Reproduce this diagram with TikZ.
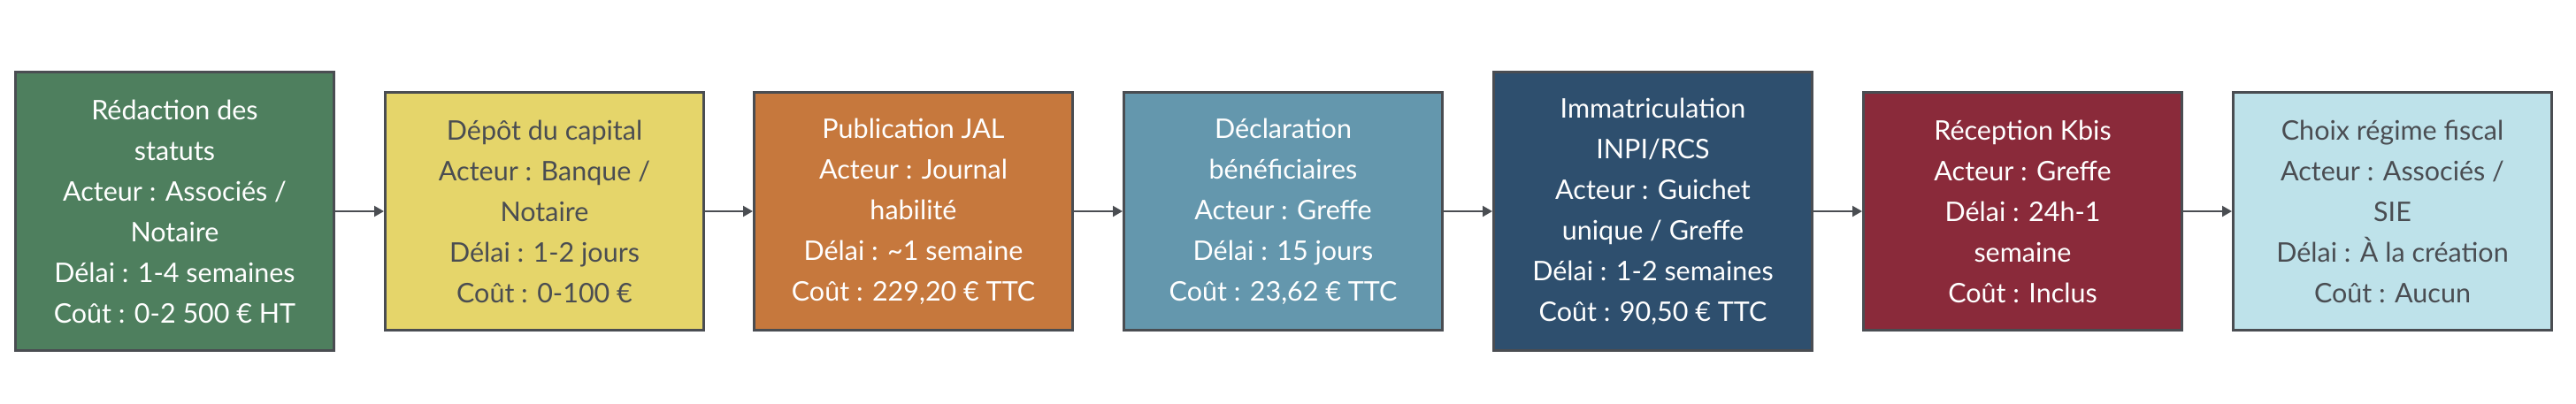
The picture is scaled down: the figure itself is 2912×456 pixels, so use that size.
\documentclass[tikz,border=0pt]{standalone}
\usepackage{fontspec}
\setmainfont{Lato}
\usetikzlibrary{arrows.meta}
\definecolor{cgreen}{HTML}{4E7F5E}
\definecolor{cyellow}{HTML}{E5D56A}
\definecolor{corange}{HTML}{C6783D}
\definecolor{cteal}{HTML}{6497AD}
\definecolor{cnavy}{HTML}{2E4F6E}
\definecolor{cmaroon}{HTML}{8A2A3A}
\definecolor{clight}{HTML}{BEE2EA}
\definecolor{cborder}{HTML}{4A4D52}
\tikzset{
  stepbox/.style={draw=cborder, line width=3pt, minimum width=360pt, inner sep=0pt,
    align=center, font=\fontsize{30.5}{46}\selectfont, anchor=center},
  tall/.style={minimum height=315pt},
  short/.style={minimum height=269pt},
  darktext/.style={text=white},
  lighttext/.style={text=cborder},
  conn/.style={draw=cborder, line width=2.2pt, -{Triangle[length=11pt,width=12pt]}}
}
\begin{document}
\begin{tikzpicture}[x=1pt,y=-1pt]
\useasboundingbox (0,0) rectangle (2912,456);
\fill[white] (0,0) rectangle (2912,456);
\node[stepbox, tall, fill=cgreen, darktext] (s1) at (197.5,239) {Rédaction des\\statuts\\Acteur : Associés /\\Notaire\\Délai : 1-4 semaines\\Coût : 0-2 500 € HT};
\node[stepbox, short, fill=cyellow, lighttext] (s2) at (615.5,239) {Dépôt du capital\\Acteur : Banque /\\Notaire\\Délai : 1-2 jours\\Coût : 0-100 €};
\node[stepbox, short, fill=corange, darktext] (s3) at (1032.5,239) {Publication JAL\\Acteur : Journal\\habilité\\Délai : \textasciitilde1 semaine\\Coût : 229,20 € TTC};
\node[stepbox, short, fill=cteal, darktext] (s4) at (1450.5,239) {Déclaration\\bénéficiaires\\Acteur : Greffe\\Délai : 15 jours\\Coût : 23,62 € TTC};
\node[stepbox, tall, fill=cnavy, darktext] (s5) at (1868.5,239) {Immatriculation\\INPI/RCS\\Acteur : Guichet\\unique / Greffe\\Délai : 1-2 semaines\\Coût : 90,50 € TTC};
\node[stepbox, short, fill=cmaroon, darktext] (s6) at (2286.5,239) {Réception Kbis\\Acteur : Greffe\\Délai : 24h-1\\semaine\\Coût : Inclus};
\node[stepbox, short, fill=clight, lighttext] (s7) at (2704.5,239) {Choix régime fiscal\\Acteur : Associés /\\SIE\\Délai : À la création\\Coût : Aucun};
\draw[conn] (s1.east) -- (s2.west);
\draw[conn] (s2.east) -- (s3.west);
\draw[conn] (s3.east) -- (s4.west);
\draw[conn] (s4.east) -- (s5.west);
\draw[conn] (s5.east) -- (s6.west);
\draw[conn] (s6.east) -- (s7.west);
\end{tikzpicture}
\end{document}
